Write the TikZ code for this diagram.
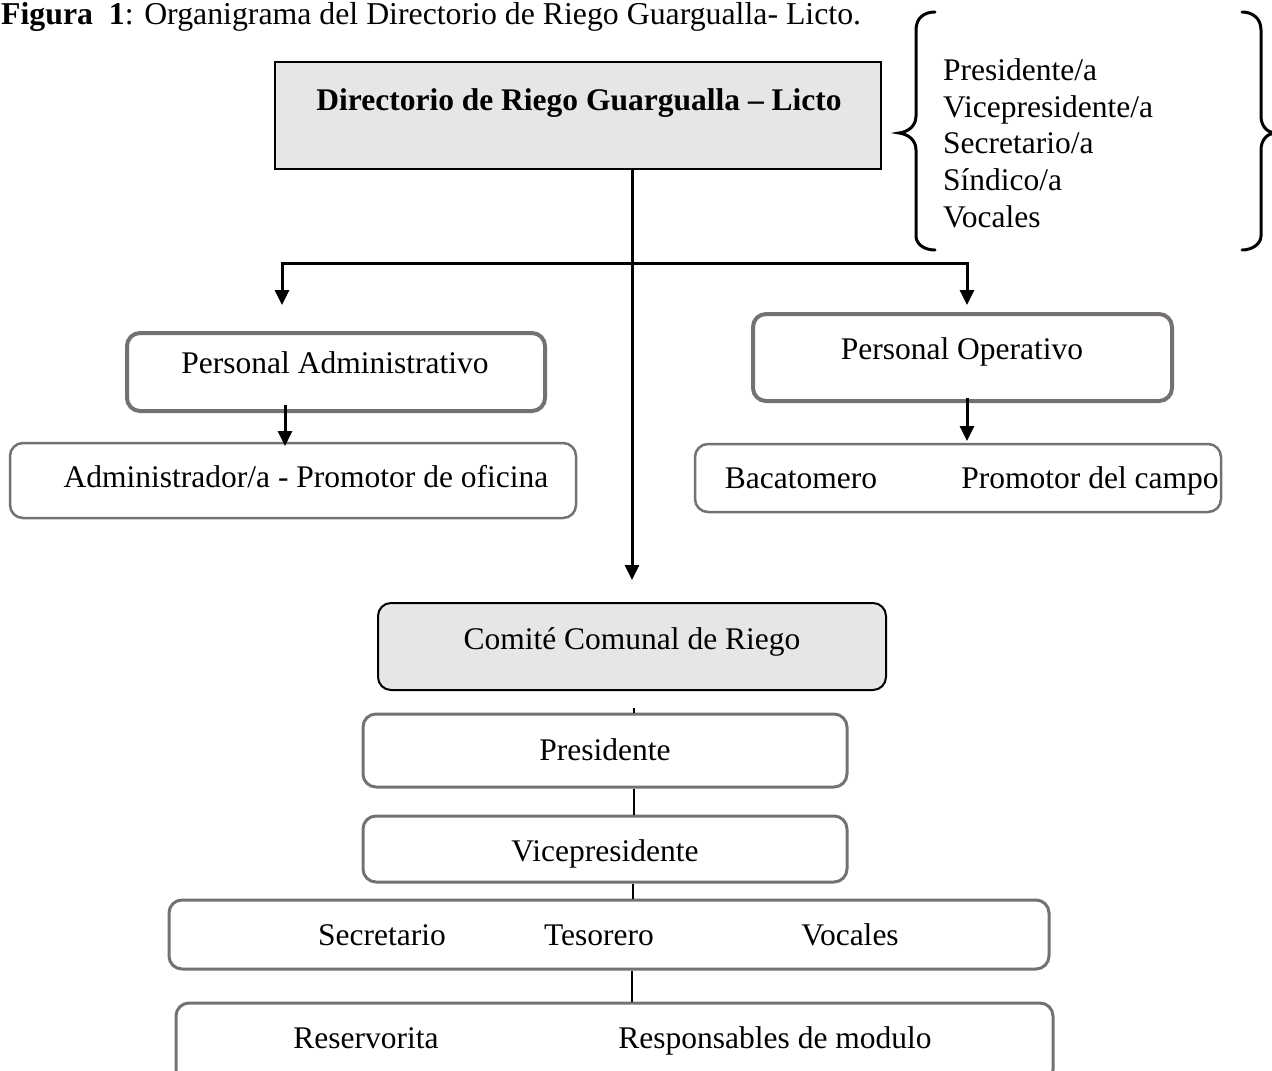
\documentclass[tikz,border=0pt]{standalone}
\usepackage{fontspec}
\setmainfont{Liberation Serif}
\usetikzlibrary{arrows.meta}
\definecolor{bordergray}{RGB}{118,113,113}
\definecolor{boxfill}{RGB}{230,230,230}
\begin{document}
\begin{tikzpicture}[x=1pt,y=-1pt,
  lbl/.style={anchor=base, inner sep=0pt, font=\fontsize{31.5}{37}\selectfont},
  lst/.style={anchor=base west, inner sep=0pt, font=\fontsize{31.5}{37}\selectfont},
  shp/.style={rectangle, minimum width=#1, inner sep=0pt},
  gbox/.style={draw=bordergray, rounded corners=13pt},
  conn/.style={line width=3pt, black},
  arr/.style={conn, -{Triangle[length=15pt,width=14pt]}},
  brace/.style={line width=3pt, black, line cap=round}]
\useasboundingbox (0,0) rectangle (1272,1071);

% title
\node[anchor=base west, inner sep=0pt, font=\fontsize{31.8}{36}\selectfont] (title) at (1,24)
  {\textbf{Figura\ \ 1}: Organigrama del Directorio de Riego Guargualla- Licto.};

% boxes
\node[shp=606, minimum height=107, draw=black, line width=2pt, fill=boxfill] (top) at (578,115.5) {};
\node[shp=418, minimum height=78, gbox, line width=4pt] (pa) at (336,372) {};
\node[shp=566, minimum height=75, gbox, line width=2.5pt] (adm) at (293,480.5) {};
\node[shp=419, minimum height=87, gbox, line width=4pt] (po) at (962.5,357.5) {};
\node[shp=526, minimum height=68, gbox, line width=2.5pt] (bac) at (958,478) {};
\node[shp=508, minimum height=87, draw=black, rounded corners=13pt, line width=2pt, fill=boxfill] (com) at (632,646.5) {};
\node[shp=484, minimum height=73, gbox, line width=3pt] (pres) at (605,750.5) {};
\node[shp=484, minimum height=66, gbox, line width=3pt] (vice) at (605,849) {};
\node[shp=880, minimum height=69, gbox, line width=3pt] (sec) at (609,934.5) {};
\node[shp=877, minimum height=80, gbox, line width=3pt] (res) at (614.5,1043) {};

% labels
\node[lbl, font=\fontsize{31.5}{37}\selectfont\bfseries] (topT) at (579,110) {Directorio de Riego Guargualla – Licto};
\node[lbl] (paT) at (335,373) {Personal Administrativo};
\node[lbl] (admT) at (306,487) {Administrador/a - Promotor de oficina};
\node[lbl] (poT) at (962,359) {Personal Operativo};
\node[lbl] (bacT1) at (801,488) {Bacatomero};
\node[lbl] (bacT2) at (1090,488) {Promotor del campo};
\node[lbl] (comT) at (632,649) {Comité Comunal de Riego};
\node[lbl] (presT) at (605,760) {Presidente};
\node[lbl] (viceT) at (605,861) {Vicepresidente};
\node[lbl] (secT1) at (382,945) {Secretario};
\node[lbl] (secT2) at (599,945) {Tesorero};
\node[lbl] (secT3) at (850,945) {Vocales};
\node[lbl] (resT1) at (366,1048) {Reservorita};
\node[lbl] (resT2) at (775,1048) {Responsables de modulo};

% brace list
\node[lst] (l1) at (943,80) {Presidente/a};
\node[lst] (l2) at (943,117) {Vicepresidente/a};
\node[lst] (l3) at (943,153) {Secretario/a};
\node[lst] (l4) at (943,190) {Síndico/a};
\node[lst] (l5) at (943,227) {Vocales};

% braces
\draw[brace] (935,12) .. controls (924,12) and (916,18) .. (916,30) -- (916,116)
  .. controls (916,126) and (908,132) .. (899,133)
  .. controls (908,134) and (916,140) .. (916,150) -- (916,236)
  .. controls (916,244) and (924,250) .. (935,250);
\draw[brace] (1242,12) .. controls (1252,12) and (1261,18) .. (1261,30) -- (1261,116)
  .. controls (1261,126) and (1267,132) .. (1274,133)
  .. controls (1267,134) and (1261,140) .. (1261,150) -- (1261,236)
  .. controls (1261,244) and (1252,250) .. (1242,250);

% connectors
\coordinate (mainEnd) at (632,580);
\draw[arr] (top.south -| com.north) -- (mainEnd);
\coordinate (bl) at (282,263);
\coordinate (br) at (967,263);
\coordinate (blEnd) at (282,305);
\coordinate (brEnd) at (967,305);
\draw[conn, line cap=rect] (bl) -- (br);
\draw[arr] (bl) -- (blEnd);
\draw[arr] (br) -- (brEnd);
\coordinate (paS) at (285,405);
\coordinate (admN) at (285,446);
\draw[arr] (paS) -- (admN);
\coordinate (poS) at (967,398);
\coordinate (bacN) at (967,441);
\draw[arr] (poS) -- (bacN);
\coordinate (stub) at (634,708);
\draw[line width=2.5pt] (stub) -- (pres.north -| stub);
\draw[line width=2.5pt] (pres.south -| stub) -- (vice.north -| stub);
\draw[line width=2.5pt] (vice.south -| 633,0) -- (sec.north -| 633,0);
\draw[line width=2.5pt] (sec.south -| com.north) -- (res.north -| com.north);
\end{tikzpicture}
\end{document}
